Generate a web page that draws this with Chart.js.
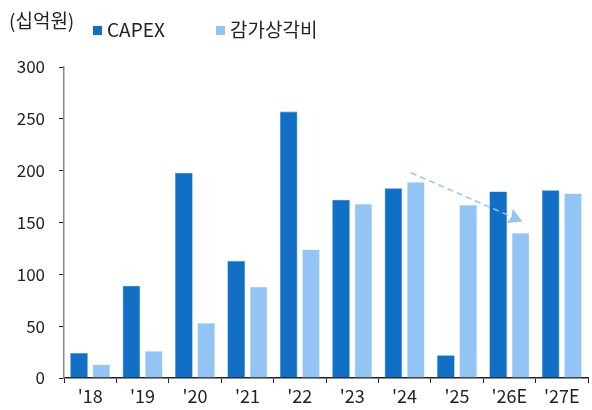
<!DOCTYPE html>
<html>
<head>
<meta charset="utf-8">
<script src="https://cdn.jsdelivr.net/npm/chart.js@4/dist/chart.umd.min.js"></script>
<style>
html,body{margin:0;padding:0;background:#fff;}
#wrap{width:592px;height:410px;position:relative;}
</style>
</head>
<body>
<div id="wrap"><canvas id="c" width="592" height="410"></canvas></div>
<script>
const categories = ["'18","'19","'20","'21","'22","'23","'24","'25","'26E","'27E"];
const capex = [24, 89, 198, 113, 257, 172, 183, 22, 180, 181];
const depreciation = [13, 26, 53, 88, 124, 168, 189, 167, 140, 178];
const seriesNames = ["CAPEX", "감가상각비"];
const yTicks = [0, 50, 100, 150, 200, 250, 300];
const unitLabel = "(십억원)";
// trend arrow: from (category index + offset, value) to (category index + offset, value)
const arrowFrom = [6.12, 198];
const arrowTo = [8.25, 151];

const DARK = '#1170c6';
const LIGHT = '#93c5f4';
const FONT = "'Noto Sans CJK KR', 'Noto Sans', sans-serif";

const overlay = {
  id: 'overlay',
  afterDraw(chart) {
    const ctx = chart.ctx;
    ctx.save();
    // unit label
    ctx.fillStyle = '#222';
    ctx.font = "19px " + FONT;
    ctx.textBaseline = 'middle';
    ctx.textAlign = 'left';
    ctx.fillText(unitLabel, 9, 21);
    // legend
    const items = chart.data.datasets;
    const xs = [93, 216];
    ctx.font = "19px " + FONT;
    items.forEach((ds, i) => {
      ctx.fillStyle = ds.backgroundColor;
      ctx.fillRect(xs[i], 26, 9, 9);
      ctx.fillStyle = '#222';
      ctx.fillText(ds.label, xs[i] + 14, 30);
    });
    // arrow
    const xs_ = chart.scales.x, ys_ = chart.scales.y;
    const px = v => xs_.getPixelForValue(0) + (xs_.getPixelForValue(1) - xs_.getPixelForValue(0)) * v;
    const x1 = px(arrowFrom[0]), y1 = ys_.getPixelForValue(arrowFrom[1]);
    const x2 = px(arrowTo[0]), y2 = ys_.getPixelForValue(arrowTo[1]);
    const ang = Math.atan2(y2 - y1, x2 - x1);
    const headLen = 16;
    const bx = x2 - Math.cos(ang) * headLen * 0.75, by = y2 - Math.sin(ang) * headLen * 0.75;
    ctx.strokeStyle = LIGHT;
    ctx.lineWidth = 1.5;
    ctx.setLineDash([6, 4]);
    ctx.beginPath();
    ctx.moveTo(x1, y1);
    ctx.lineTo(bx, by);
    ctx.stroke();
    ctx.setLineDash([]);
    ctx.fillStyle = LIGHT;
    ctx.beginPath();
    ctx.moveTo(x2, y2);
    ctx.lineTo(x2 - headLen * Math.cos(ang - 0.5), y2 - headLen * Math.sin(ang - 0.5));
    ctx.lineTo(bx, by);
    ctx.lineTo(x2 - headLen * Math.cos(ang + 0.5), y2 - headLen * Math.sin(ang + 0.5));
    ctx.closePath();
    ctx.fill();
    ctx.restore();
  }
};

new Chart(document.getElementById('c'), {
  type: 'bar',
  data: {
    labels: categories,
    datasets: [
      { label: seriesNames[0], data: capex, backgroundColor: DARK, borderColor: '#3d8ad3', borderWidth: 0.6,
        categoryPercentage: 0.853, barPercentage: 0.79 },
      { label: seriesNames[1], data: depreciation, backgroundColor: LIGHT, borderColor: '#c4def8', borderWidth: 0.6,
        categoryPercentage: 0.853, barPercentage: 0.79 }
    ]
  },
  options: {
    responsive: false,
    animation: false,
    devicePixelRatio: 1,
    layout: { padding: { top: 67, right: 4, left: 0, bottom: 0 } },
    plugins: { legend: { display: false }, tooltip: { enabled: false } },
    scales: {
      x: {
        afterFit(s) { s.height = 32; },
        grid: { drawOnChartArea: false, drawTicks: true, tickLength: 5, color: '#222', offset: true },
        border: { color: '#222', width: 1.5 },
        ticks: { color: '#222', font: { family: FONT, size: 18 }, padding: 2, maxRotation: 0 }
      },
      y: {
        min: 0, max: 300,
        afterFit(s) { s.width = 64; },
        afterBuildTicks(s) { s.ticks = yTicks.map(v => ({ value: v })); },
        grid: { drawOnChartArea: false, drawTicks: true, tickLength: 5, color: '#222' },
        border: { color: '#888', width: 1.5 },
        ticks: { color: '#222', font: { family: FONT, size: 17 }, padding: 14 }
      }
    }
  },
  plugins: [overlay]
});
</script>
</body>
</html>
